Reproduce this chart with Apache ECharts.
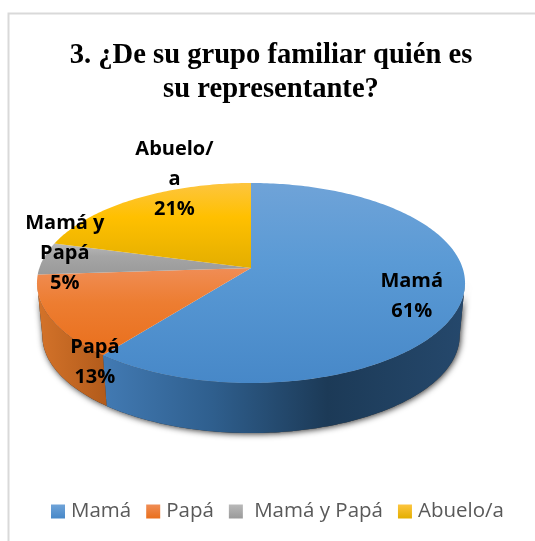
<!DOCTYPE html>
<html>
<head>
<meta charset="utf-8">
<style>html,body{margin:0;padding:0;background:#fff}#c{width:535px;height:541px}</style>
<script src="https://cdn.jsdelivr.net/npm/echarts@6/dist/echarts.min.js"></script>
</head>
<body>
<div id="c"></div>
<script>
const categories = ['Mamá', 'Papá', 'Mamá y Papá', 'Abuelo/a'];
const values = [61, 13, 5, 21];
const labelNames = ['Mamá', 'Papá', 'Mamá y\nPapá', 'Abuelo/\na'];

// Drawing style, per category
const topStops = [
  ['#6fa3d8', '#5a9ad5', '#4788c8'],
  ['#f08d55', '#ed7d31', '#e96f1c'],
  ['#b9b9b9', '#a5a5a5', '#9a9a9a'],
  ['#fdc53f', '#ffc000', '#e3ae00']
];
const wallStops = [
  [[0, '#427ab3'], [0.3, '#2f5f8e'], [0.62, '#1c3a57'], [1, '#25486c']],
  [[0, '#d4732a'], [1, '#b25b1b']],
  [[0, '#7c7c7c'], [1, '#7c7c7c']],
  [[0, '#bf9000'], [1, '#bf9000']]
];
const labelOffsets = [[5, 3], [-8, 58], [-30, -8], [12, -35]];

// Perspective projection of the pie disc
const cx = 251, apexY = 268, R = 211.6, persp = -0.15, yScale = 57.55;
const depthScale = 0.975, depthDrop = 52.9, angleWarp = 1.5;
const total = values.reduce((a, b) => a + b, 0);
const DEG = Math.PI / 180;

function warp(t) { return t - angleWarp * Math.sin(2 * t * DEG); }
function topPt(tDeg, r) {
  r = r === undefined ? 1 : r;
  const u = Math.sin(tDeg * DEG) * r, v = -Math.cos(tDeg * DEG) * r;
  const d = 1 + persp * v;
  return [cx + R * u / d, (yScale * v + apexY) / d];
}
function bottomPt(tDeg) {
  const p = topPt(tDeg);
  return [cx + depthScale * (p[0] - cx), apexY + depthDrop + depthScale * (p[1] - apexY)];
}
function arc(fn, a, b) {
  const pts = [], n = Math.max(2, Math.ceil(Math.abs(b - a)));
  for (let i = 0; i <= n; i++) pts.push(fn(a + (b - a) * i / n));
  return pts;
}
const tangent = Math.acos(persp) / DEG;          // front-facing limit of the wall
const wallFrom = tangent, wallTo = 360 - tangent;

function renderSlice(index) {
  return function () {
    let before = 0;
    for (let i = 0; i < index; i++) before += values[i];
    const t1 = warp(before / total * 360), t2 = warp((before + values[index]) / total * 360);
    const children = [];
    const a = Math.max(t1, wallFrom), b = Math.min(t2, wallTo);
    if (b > a) {
      const pts = arc(topPt, a, b).concat(arc(bottomPt, b, a));
      children.push({
        type: 'polygon', z2: 1, shape: { points: pts },
        style: { fill: '#333', shadowBlur: 6, shadowColor: 'rgba(0,0,0,0.8)', shadowOffsetX: 1, shadowOffsetY: 1 }
      });
      children.push({
        type: 'polygon', z2: 2, shape: { points: pts },
        style: { fill: new echarts.graphic.LinearGradient(0, 0, 1, 0,
          wallStops[index].map(s => ({ offset: s[0], color: s[1] }))) }
      });
    }
    const s = topStops[index];
    children.push({
      type: 'polygon', z2: 3,
      shape: { points: [[cx, apexY]].concat(arc(topPt, t1, t2)) },
      style: { fill: new echarts.graphic.LinearGradient(0, 0, 0, 1, [
        { offset: 0, color: s[0] }, { offset: 0.4, color: s[1] }, { offset: 1, color: s[2] }]) }
    });
    const anchor = topPt((t1 + t2) / 2, 0.75);
    children.push({
      type: 'text', z2: 4,
      style: {
        text: labelNames[index] + '\n' + Math.round(values[index] / total * 100) + '%',
        x: anchor[0] + labelOffsets[index][0], y: anchor[1] + labelOffsets[index][1],
        align: 'center', verticalAlign: 'middle',
        font: 'bold 20px "Open Sans"', lineHeight: 30, fill: '#000'
      }
    });
    return { type: 'group', children };
  };
}

const chart = echarts.init(document.getElementById('c'), null, { renderer: 'canvas' });
chart.setOption({
  animation: false,
  title: {
    text: '3. ¿De su grupo familiar quién es\nsu representante?',
    left: 266, top: 34, textAlign: 'center',
    textStyle: { fontFamily: '"Liberation Serif"', fontWeight: 'bold', fontSize: 28.6, lineHeight: 34, color: '#000' }
  },
  legend: {
    left: 46, top: 496,
    itemWidth: 14, itemHeight: 14, itemGap: 15, icon: 'rect',
    data: categories,
    formatter: n => n === 'Mamá y Papá' ? ' ' + n : n,
    textStyle: { fontFamily: '"Open Sans"', fontSize: 20.5, color: '#595959', padding: [0, 0, 0, 1] }
  },
  graphic: [{
    type: 'rect', silent: true, z: -1,
    shape: { x: 8.5, y: 13.5, width: 700, height: 700 },
    style: { fill: '#fff', stroke: '#d9d9d9', lineWidth: 2 }
  }],
  series: categories.map((name, i) => ({
    type: 'custom', name, coordinateSystem: 'none',
    data: [[values[i]]],
    itemStyle: { color: new echarts.graphic.LinearGradient(0, 0, 0, 1, [
      { offset: 0, color: topStops[i][0] }, { offset: 1, color: topStops[i][2] }]) },
    renderItem: renderSlice(i)
  }))
});
</script>
</body>
</html>
